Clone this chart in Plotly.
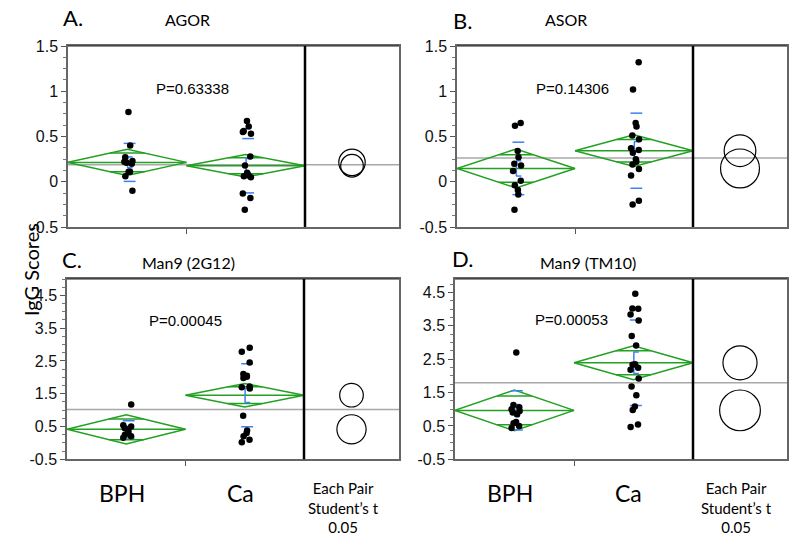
import numpy as np
import plotly.graph_objects as go

groups = ["BPH", "Ca"]

# ---- Panel A: AGOR ----
agor_bph = [0.77, 0.40, 0.27, 0.23, 0.22, 0.20, 0.21, 0.11, 0.11, 0.06, -0.10]
agor_ca = [0.67, 0.61, 0.56, 0.53, 0.55, 0.28, 0.18, 0.10, 0.07, 0.06, 0.05, -0.13, -0.18, -0.31]
agor_mean = [0.214, 0.177]
agor_ci = [0.146, 0.125]
agor_sd = [0.21, 0.30]
agor_se = [0.06, 0.08]
agor_grand = 0.188

# ---- Panel B: ASOR ----
asor_bph = [0.65, 0.62, 0.34, 0.27, 0.20, 0.18, 0.12, 0.01, -0.04, -0.09, -0.14, -0.31]
asor_ca = [1.32, 1.02, 0.65, 0.61, 0.51, 0.47, 0.37, 0.35, 0.32, 0.25, 0.22, 0.19, 0.14, 0.07, -0.21, -0.25]
asor_mean = [0.147, 0.343]
asor_ci = [0.215, 0.175]
asor_sd = [0.29, 0.415]
asor_se = [0.084, 0.10]
asor_grand = 0.262

# ---- Panel C: Man9 (2G12) ----
g12_bph = [1.17, 0.54, 0.50, 0.45, 0.38, 0.30, 0.25, 0.20, 0.16]
g12_ca = [2.90, 2.78, 2.45, 2.10, 2.05, 2.02, 1.98, 1.72, 1.70, 1.66, 0.83, 0.38, 0.30, 0.20, 0.10, 0.02]
g12_mean = [0.414, 1.455]
g12_ci = [0.445, 0.36]
g12_sd = [0.265, 0.96]
g12_se = [0.09, 0.22]
g12_grand = 1.02

# ---- Panel D: Man9 (TM10) ----
tm10_bph = [2.70, 1.13, 1.06, 1.00, 0.95, 0.90, 0.85, 0.62, 0.58, 0.50, 0.44]
tm10_ca = [4.46, 4.02, 4.01, 3.84, 3.66, 3.19, 2.91, 2.35, 2.33, 2.24, 2.18, 1.92, 1.68, 1.42, 1.08, 0.98, 0.54, 0.47]
tm10_mean = [0.965, 2.39]
tm10_ci = [0.61, 0.51]
tm10_sd = [0.59, 1.28]
tm10_se = [0.18, 0.32]
tm10_grand = 1.795

letters = ["A.", "B.", "C.", "D."]
titles = ["AGOR", "ASOR", "Man9 (2G12)", "Man9 (TM10)"]
pvalues = ["P=0.63338", "P=0.14306", "P=0.00045", "P=0.00053"]
ticks_small = [1.5, 1, 0.5, 0, -0.5]
ticks_big = [4.5, 3.5, 2.5, 1.5, 0.5, -0.5]

W, H = 800, 541
GREEN = "#22a022"
BLUE = "#3f7ff2"

panels = [
    dict(pts=[agor_bph, agor_ca], mean=agor_mean, ci=agor_ci, sd=agor_sd, se=agor_se, grand=agor_grand,
         px=(68, 305, 399), py=(46, 227), yr=(-0.5, 1.5), ticks=ticks_small, minor=0.125,
         letter=(73, 18), title=(187, 19), p=(1.05, 1.035), xlab=False),
    dict(pts=[asor_bph, asor_ca], mean=asor_mean, ci=asor_ci, sd=asor_sd, se=asor_se, grand=asor_grand,
         px=(457, 693, 787), py=(46, 227), yr=(-0.5, 1.5), ticks=ticks_small, minor=0.125,
         letter=(462, 20), title=(566, 19), p=(0.98, 1.035), xlab=False),
    dict(pts=[g12_bph, g12_ca], mean=g12_mean, ci=g12_ci, sd=g12_sd, se=g12_se, grand=g12_grand,
         px=(67, 304, 399), py=(279, 459.3), yr=(-0.5, 5.0), ticks=ticks_big, minor=0.25,
         letter=(72, 259), title=(188, 262), p=(1.0, 3.74), xlab=True, eachx=343),
    dict(pts=[tm10_bph, tm10_ca], mean=tm10_mean, ci=tm10_ci, sd=tm10_sd, se=tm10_se, grand=tm10_grand,
         px=(455, 693, 787), py=(279, 459.3), yr=(-0.5, 4.9), ticks=ticks_big, minor=0.25,
         letter=(462, 258), title=(588, 263), p=(0.98, 3.68), xlab=True, eachx=736),
]

fig = go.Figure()
layout = dict(width=W, height=H, margin=dict(l=0, r=0, t=0, b=0, pad=0, autoexpand=False),
              paper_bgcolor="white", plot_bgcolor="white", showlegend=False)
shapes, annotations = [], []
TXT = "Lato, 'Noto Sans', sans-serif"
NUM = "'Liberation Sans', Arial, sans-serif"


def ann(**kw):
    d = dict(showarrow=False, xanchor="center", yanchor="middle")
    d.update(kw)
    annotations.append(d)


for i, pn in enumerate(panels):
    k = "" if i == 0 else str(i + 1)
    xa, ya = "x" + k, "y" + k
    x0p, xmid, x1p = pn["px"]
    ytop, ybot = pn["py"]
    xpu = (xmid - x0p) / 2.0
    xmax = (x1p - x0p) / xpu
    ypu = (ybot - ytop) / (pn["yr"][1] - pn["yr"][0])
    layout["xaxis" + k] = dict(domain=[x0p / W, x1p / W], range=[0, xmax], anchor=ya, automargin=False,
                               showgrid=False, zeroline=False, showline=True, mirror=True,
                               linecolor="#666", linewidth=1.5, tickmode="array", tickvals=[1],
                               showticklabels=False, ticks="outside", ticklen=5, tickcolor="#555")
    layout["yaxis" + k] = dict(domain=[1 - ybot / H, 1 - ytop / H], range=list(pn["yr"]), anchor=xa,
                               automargin=False,
                               showgrid=False, zeroline=False, showline=True, mirror=True,
                               linecolor="#666", linewidth=1.5, tickmode="array",
                               tickvals=pn["ticks"], ticktext=[("%g" % t) for t in pn["ticks"]],
                               ticks="outside", ticklen=5, tickcolor="#555",
                               tickfont=dict(family=NUM, size=16, color="#111"),
                               minor=dict(tickmode="linear", tick0=pn["yr"][0], dtick=pn["minor"],
                                          ticks="outside", ticklen=3, tickcolor="#777"))
    shapes.append(dict(type="line", xref=xa + " domain", yref=ya, x0=0, x1=1,
                       y0=pn["grand"], y1=pn["grand"], line=dict(color="#a8a8a8", width=1.5), layer="below"))
    shapes.append(dict(type="line", xref=xa + " domain", yref=ya + " domain", x0=0, x1=1, y0=1, y1=1,
                       line=dict(color="#222", width=1.2)))
    shapes.append(dict(type="line", xref=xa, yref=ya + " domain", x0=2, x1=2, y0=0, y1=1,
                       line=dict(color="black", width=2.5)))
    dx, dy = [], []
    bx, by = [], []
    cxs = 2 + (xmax - 2) / 2
    for g in range(2):
        m, c = pn["mean"][g], pn["ci"][g]
        xc = g + 0.5
        dx += [g, xc, g + 1, xc, g, None, g, g + 1, None]
        dy += [m, m + c, m, m - c, m, None, m, m, None]
        h = c / np.sqrt(2)
        hw = 0.5 * (1 - 1 / np.sqrt(2))
        for s in (1, -1):
            dx += [xc - hw, xc + hw, None]
            dy += [m + s * h, m + s * h, None]
        sd, se = pn["sd"][g], pn["se"][g]
        for s in (1, -1):
            bx += [xc - 0.03, xc + 0.07, None]
            by += [m + s * sd, m + s * sd, None]
            bx += [xc, xc + 0.045, None]
            by += [m + s * se, m + s * se, None]
        bx += [xc + 0.003, xc + 0.003, None]
        by += [m - se, m + se, None]
        rx = c * ypu / xpu
        shapes.append(dict(type="circle", xref=xa, yref=ya, x0=cxs - rx, x1=cxs + rx,
                           y0=m - c, y1=m + c, line=dict(color="black", width=1.2)))
    fig.add_trace(go.Scatter(x=dx, y=dy, mode="lines", line=dict(color=GREEN, width=1.5),
                             xaxis=xa, yaxis=ya, hoverinfo="skip"))
    fig.add_trace(go.Scatter(x=bx, y=by, mode="lines", line=dict(color=BLUE, width=1.5),
                             xaxis=xa, yaxis=ya, hoverinfo="skip"))
    for g in range(2):
        vals = pn["pts"][g]
        n = len(vals)
        jit = 0.035 * np.sin(np.arange(n) * 2.7 + i) + 0.01
        fig.add_trace(go.Scatter(x=(g + 0.5 + jit).tolist(), y=vals, mode="markers",
                                 marker=dict(color="black", size=6.5), xaxis=xa, yaxis=ya,
                                 name=groups[g]))
    ann(text=pvalues[i], xref=xa, yref=ya, x=pn["p"][0], y=pn["p"][1],
        font=dict(family=NUM, size=15, color="black"))
    ann(text=letters[i], xref="paper", yref="paper", x=pn["letter"][0] / W,
        y=1 - pn["letter"][1] / H, font=dict(family=TXT, size=22, color="black"))
    ann(text=titles[i], xref="paper", yref="paper", x=pn["title"][0] / W,
        y=1 - pn["title"][1] / H, font=dict(family=TXT, size=16, color="black"))
    if pn["xlab"]:
        for g in range(2):
            ann(text=groups[g], xref=xa, yref="paper", x=g + 0.46, y=1 - 493 / H,
                font=dict(family=TXT, size=23, color="black"))
        ann(text="Each Pair<br>Student\u2019s t<br>0.05", xref="paper", yref="paper",
            x=pn["eachx"] / W, y=1 - 507 / H, align="center",
            font=dict(family=TXT, size=15, color="black"))

ann(text="IgG Scores", xref="paper", yref="paper", x=31 / W, y=1 - 270 / H,
    textangle=-90, font=dict(family=TXT, size=20, color="black"))

layout["shapes"] = shapes
layout["annotations"] = annotations
fig.update_layout(**layout)
fig.write_html("out.html", config={"displayModeBar": False},
               post_script="document.body.style.margin='0';document.body.style.padding='0';")
